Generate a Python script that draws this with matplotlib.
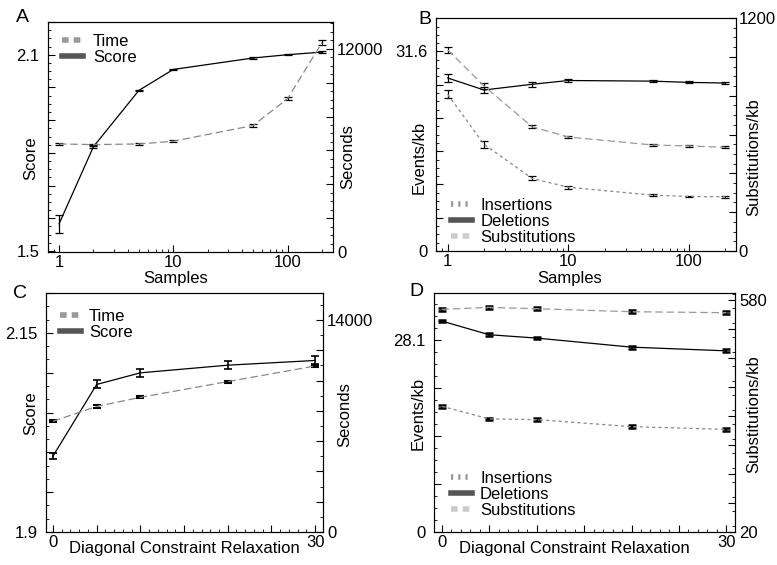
import matplotlib
matplotlib.use("Agg")
import matplotlib.pyplot as plt
from matplotlib.lines import Line2D
from matplotlib.ticker import AutoMinorLocator, LogLocator, NullFormatter, MultipleLocator

plt.rcParams['font.family'] = ['Liberation Sans', 'DejaVu Sans']
plt.rcParams['font.size'] = 12

# panel A / B : x = number of samples
samples = [1, 2, 5, 10, 50, 100, 200]
a_score = [1.583, 1.819, 1.991, 2.055, 2.090, 2.100, 2.108]
a_score_err = [0.028, 0.004, 0.002, 0.002, 0.002, 0.002, 0.002]
a_time = [6380, 6340, 6380, 6540, 7470, 9050, 12360]
a_time_err = [50, 60, 50, 60, 110, 80, 140]

b_ins = [24.8, 16.9, 11.5, 10.1, 8.84, 8.63, 8.58]
b_ins_err = [0.64, 0.53, 0.3, 0.25, 0.15, 0.15, 0.15]
b_del = [27.4, 25.5, 26.4, 27.0, 26.9, 26.7, 26.6]
b_del_err = [0.65, 0.5, 0.35, 0.3, 0.2, 0.15, 0.15]
b_sub = [1036, 850, 640, 587, 546, 541, 534]
b_sub_err = [15, 15, 8, 6, 5, 5, 5]

# panel C / D : x = diagonal constraint relaxation
relax = [0, 5, 10, 20, 30]
c_score = [1.9953, 2.0852, 2.0998, 2.1094, 2.1153]
c_score_err = [0.004, 0.005, 0.005, 0.005, 0.005]
c_time = [7310, 8290, 8890, 9930, 10960]
c_time_err = [70, 70, 70, 70, 90]

d_ins = [18.42, 16.56, 16.46, 15.43, 15.03]
d_ins_err = [0.2, 0.2, 0.2, 0.2, 0.2]
d_del = [30.9, 28.89, 28.4, 27.07, 26.53]
d_del_err = [0.2, 0.2, 0.2, 0.2, 0.2]
d_sub = [557.4, 562.3, 559.0, 551.8, 549.4]
d_sub_err = [3.5, 3.5, 3.5, 3.5, 3.5]

# tick labels (only the ends are labelled)
a_left_ticks = [1.5, 1.6, 1.7, 1.8, 1.9, 2.0, 2.1, 2.2]
a_left_labels = ['1.5', '', '', '', '', '', '2.1', '']
a_right_ticks = [0, 2000, 4000, 6000, 8000, 10000, 12000]
a_right_labels = ['0', '', '', '', '', '', '12000']
b_left_ticks = [0, 5.267, 10.533, 15.8, 21.067, 26.333, 31.6]
b_left_labels = ['0', '', '', '', '', '', '31.6']
b_right_ticks = [0, 200, 400, 600, 800, 1000, 1200]
b_right_labels = ['0', '', '', '', '', '', '1200']
c_left_ticks = [1.9, 1.95, 2.0, 2.05, 2.1, 2.15, 2.2]
c_left_labels = ['1.9', '', '', '', '', '2.15', '']
c_right_ticks = [0, 2000, 4000, 6000, 8000, 10000, 12000, 14000]
c_right_labels = ['0', '', '', '', '', '', '', '14000']
d_left_ticks = [0, 7.025, 14.05, 21.075, 28.1]
d_left_labels = ['0', '', '', '', '28.1']
d_right_ticks = [20, 90, 160, 230, 300, 370, 440, 510, 580]
d_right_labels = ['20', '', '', '', '', '', '', '', '580']
relax_ticks = [0, 5, 10, 15, 20, 25, 30]
relax_labels = ['0', '', '', '', '', '', '30']

W, H = 777, 565
fig = plt.figure(figsize=(W / 100, H / 100), dpi=100)


def box(l, t, r, b):
    return [l / W, 1 - b / H, (r - l) / W, (b - t) / H]


def style(ax):
    for s in ax.spines.values():
        s.set_linewidth(0.8)
    ax.tick_params(which='both', direction='in', top=False)
    ax.tick_params(which='major', length=5, width=0.8)
    ax.tick_params(which='minor', length=2.5, width=0.6)


eb = dict(ecolor='black', elinewidth=0.9, capsize=3, capthick=0.9, lw=0.9)
DASH = (0, (6, 3))
SHORT = (0, (2.5, 2.5))

# ---------- A ----------
ax = fig.add_axes(box(48, 22, 333, 252))
ax2 = ax.twinx()
ax.set_xscale('log')
ax.errorbar(samples, a_score, yerr=a_score_err, color='black', zorder=3, **eb)
ax2.errorbar(samples, a_time, yerr=a_time_err, color='#888888', ls=DASH, **eb)
ax.set_xlim(0.8, 250)
ax.set_ylim(1.497, 2.196)
ax2.set_ylim(0, 13580)
ax.set_xticks([1, 10, 100], labels=['1', '10', '100'])
ax.xaxis.set_minor_locator(LogLocator(subs=range(2, 10)))
ax.xaxis.set_minor_formatter(NullFormatter())
ax.set_yticks(a_left_ticks, labels=a_left_labels)
ax.yaxis.set_minor_locator(AutoMinorLocator(4))
ax2.set_yticks(a_right_ticks, labels=a_right_labels)
ax2.yaxis.set_minor_locator(MultipleLocator(500))
for a in (ax, ax2):
    style(a)
ax.tick_params(axis='y', pad=6)
ax.tick_params(axis='x', pad=2)
ax2.tick_params(axis='y', pad=3)
ax.legend(handles=[Line2D([], [], color='#999999', lw=4, ls=(0, (1.2, 0.9))),
                   Line2D([], [], color='#555555', lw=4)],
          labels=['Time', 'Score'], loc='upper left', bbox_to_anchor=(0.049, 0.948),
          frameon=False, borderpad=0, borderaxespad=0, handlelength=1.25,
          handletextpad=0.6, labelspacing=0.05)

# ---------- B ----------
bx = fig.add_axes(box(436, 18, 736, 251))
bx2 = bx.twinx()
bx.set_xscale('log')
bx.errorbar(samples, b_ins, yerr=b_ins_err, color='#888888', ls=SHORT, **eb)
bx.errorbar(samples, b_del, yerr=b_del_err, color='black', zorder=3, **eb)
bx2.errorbar(samples, b_sub, yerr=b_sub_err, color='#999999', ls=DASH, **eb)
bx.set_xlim(0.8, 245)
bx.set_ylim(0, 36.9)
bx2.set_ylim(0, 1200)
bx.set_xticks([1, 10, 100], labels=['1', '10', '100'])
bx.xaxis.set_minor_locator(LogLocator(subs=range(2, 10)))
bx.xaxis.set_minor_formatter(NullFormatter())
bx.set_yticks(b_left_ticks, labels=b_left_labels)
bx.yaxis.set_minor_locator(AutoMinorLocator(4))
bx2.set_yticks(b_right_ticks, labels=b_right_labels)
bx2.yaxis.set_minor_locator(MultipleLocator(50))
for a in (bx, bx2):
    style(a)
bx.tick_params(axis='y', pad=6)
bx.tick_params(axis='x', pad=2)
bx2.tick_params(axis='y', pad=2)
bx.legend(handles=[Line2D([], [], color='#999999', lw=4, ls=(0, (0.4, 0.9))),
                   Line2D([], [], color='#555555', lw=4),
                   Line2D([], [], color='#cccccc', lw=4, ls=(0, (1.2, 0.9)))],
          labels=['Insertions', 'Deletions', 'Substitutions'], loc='upper left',
          bbox_to_anchor=(0.05, 0.227), frameon=False, borderpad=0, borderaxespad=0,
          handlelength=1.25, handletextpad=0.5, labelspacing=0.05)

# ---------- C ----------
cx = fig.add_axes(box(46, 293, 323, 532))
cx2 = cx.twinx()
cx.errorbar(relax, c_score, yerr=c_score_err, color='black', zorder=3,
            **{**eb, 'elinewidth': 1.2, 'capthick': 1.2})
cx2.errorbar(relax, c_time, yerr=c_time_err, color='#888888', ls=DASH,
             **{**eb, 'elinewidth': 1.5, 'capthick': 1.5})
cx.set_xlim(-0.8, 30.9)
cx.set_ylim(1.9, 2.198)
cx2.set_ylim(0, 15780)
cx.set_xticks(relax_ticks, labels=relax_labels)
cx.xaxis.set_minor_locator(MultipleLocator(1))
cx.set_yticks(c_left_ticks, labels=c_left_labels)
cx.yaxis.set_minor_locator(AutoMinorLocator(3))
cx2.set_yticks(c_right_ticks, labels=c_right_labels)
cx2.yaxis.set_minor_locator(MultipleLocator(1000))
for a in (cx, cx2):
    style(a)
cx.tick_params(axis='y', pad=6)
cx.tick_params(axis='x', pad=2)
cx2.tick_params(axis='y', pad=3)
cx.legend(handles=[Line2D([], [], color='#999999', lw=4, ls=(0, (1.2, 0.9))),
                   Line2D([], [], color='#555555', lw=4)],
          labels=['Time', 'Score'], loc='upper left', bbox_to_anchor=(0.05, 0.933),
          frameon=False, borderpad=0, borderaxespad=0, handlelength=1.25,
          handletextpad=0.5, labelspacing=0.05)

# ---------- D ----------
dx = fig.add_axes(box(434, 293, 735, 532))
dx2 = dx.twinx()
thick = {**eb, 'elinewidth': 1.5, 'capthick': 1.8}
dx.errorbar(relax, d_ins, yerr=d_ins_err, color='#888888', ls=SHORT, **thick)
dx.errorbar(relax, d_del, yerr=d_del_err, color='black', zorder=3, **thick)
dx2.errorbar(relax, d_sub, yerr=d_sub_err, color='#999999', ls=DASH, **thick)
dx.set_xlim(-0.8, 30.9)
dx.set_ylim(0, 35.0)
dx2.set_ylim(20, 597)
dx.set_xticks(relax_ticks, labels=relax_labels)
dx.xaxis.set_minor_locator(MultipleLocator(1))
dx.set_yticks(d_left_ticks, labels=d_left_labels)
dx.yaxis.set_minor_locator(AutoMinorLocator(4))
dx2.set_yticks(d_right_ticks, labels=d_right_labels)
dx2.yaxis.set_minor_locator(MultipleLocator(35))
for a in (dx, dx2):
    style(a)
dx.tick_params(axis='y', pad=6)
dx.tick_params(axis='x', pad=2)
dx2.tick_params(axis='y', pad=3)
dx.legend(handles=[Line2D([], [], color='#999999', lw=4, ls=(0, (0.4, 0.9))),
                   Line2D([], [], color='#555555', lw=4),
                   Line2D([], [], color='#cccccc', lw=4, ls=(0, (1.2, 0.9)))],
          labels=['Insertions', 'Deletions', 'Substitutions'], loc='upper left',
          bbox_to_anchor=(0.056, 0.255), frameon=False, borderpad=0, borderaxespad=0,
          handlelength=1.25, handletextpad=0.5, labelspacing=0.05)

# axis labels and panel letters, placed in pixels
def label(x, y, s, rot=0, size=12):
    fig.text(x / W, 1 - y / H, s, rotation=rot, ha='center', va='center', fontsize=size)


label(22, 18, 'A', size=14)
label(425, 19, 'B', size=14)
label(20, 294, 'C', size=14)
label(416, 292, 'D', size=14)
label(31, 158, 'Score', 90)
label(348, 157, 'Seconds', 90)
label(176, 278, 'Samples')
label(419, 157, 'Events/kb', 90)
label(754, 157, 'Substitutions/kb', 90)
label(570, 278, 'Samples')
label(31, 413, 'Score', 90)
label(345, 415, 'Seconds', 90)
label(184, 548, 'Diagonal Constraint Relaxation')
label(418, 413, 'Events/kb', 90)
label(754, 414, 'Substitutions/kb', 90)
label(574, 548, 'Diagonal Constraint Relaxation')

fig.savefig('out.png', dpi=100)
